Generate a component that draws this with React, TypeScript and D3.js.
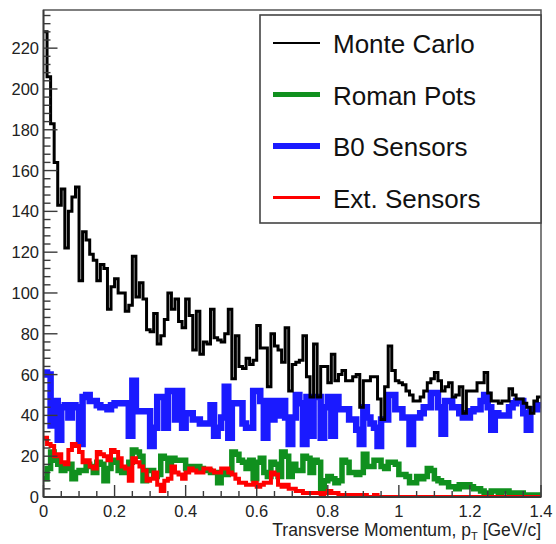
import React from 'react';
import * as d3 from 'd3';

const BIN_W = 0.01;
const X_MAX = 1.4;
const Y_MAX = 238.7;

const monteCarlo = [
  228, 206, 183, 164, 143, 151, 122, 140, 147, 152,
  106, 130, 126, 119, 116, 106, 114, 112, 92, 103,
  107, 100, 100, 91, 94, 118, 98, 105, 97, 82,
  81, 90, 75, 79, 87, 100, 92, 97, 86, 83,
  97, 89, 72, 91, 70, 76, 75, 92, 78, 77,
  76, 80, 92, 58, 79, 64, 63, 68, 65, 67,
  84, 73, 73, 54, 80, 74, 72, 66, 83, 52,
  65, 66, 67, 79, 59, 49, 75, 49, 64, 64,
  56, 70, 57, 60, 62, 57, 57, 59, 60, 44,
  57, 57, 59, 59, 48, 38, 54, 74, 62, 57,
  56, 55, 52, 50, 47, 47, 49, 52, 56, 58,
  61, 57, 52, 54, 56, 49, 50, 54, 41, 52,
  52, 52, 56, 56, 61, 51, 47, 47, 46, 47,
  47, 53, 50, 48, 48, 46, 44, 41, 47, 49,
];

const romanPots = [
  9, 14, 22, 18, 16, 13, 14, 16, 9, 12,
  13, 13, 16, 15, 12, 17, 16, 8, 14, 18,
  17, 13, 12, 12, 17, 23, 22, 20, 8, 13,
  13, 10, 11, 20, 19, 13, 19, 18, 18, 18,
  14, 15, 15, 15, 14, 13, 13, 12, 12, 7,
  12, 11, 12, 22, 21, 18, 17, 14, 18, 9,
  17, 19, 12, 10, 17, 16, 10, 22, 20, 10,
  16, 13, 13, 20, 19, 12, 18, 17, 3, 8,
  10, 9, 7, 8, 18, 17, 12, 12, 11, 12,
  21, 15, 15, 18, 18, 15, 14, 17, 17, 16,
  11, 11, 10, 7, 7, 10, 9, 10, 14, 13,
  9, 8, 7, 7, 5, 5, 4, 6, 5, 6,
  5, 4, 4, 3, 2, 2, 3, 3, 2, 3,
  3, 2, 2, 1, 2, 1, 1, 1, 0, 1,
];

const b0Sensors = [
  61, 60, 35, 47, 28, 44, 45, 39, 45, 44,
  26, 49, 50, 47, 47, 45, 44, 44, 43, 45,
  46, 46, 46, 46, 30, 57, 42, 42, 42, 42,
  25, 34, 49, 49, 34, 52, 52, 38, 52, 34,
  41, 41, 38, 38, 36, 36, 36, 45, 30, 34,
  39, 54, 29, 46, 46, 46, 36, 34, 34, 52,
  52, 47, 29, 47, 38, 47, 40, 47, 39, 26,
  39, 50, 46, 26, 49, 30, 49, 49, 29, 44,
  49, 30, 49, 43, 43, 43, 38, 38, 33, 26,
  44, 39, 36, 34, 25, 38, 38, 50, 50, 43,
  43, 39, 39, 26, 39, 39, 41, 44, 44, 51,
  51, 44, 31, 47, 47, 44, 44, 41, 39, 39,
  42, 43, 43, 47, 50, 44, 33, 41, 40, 40,
  40, 44, 46, 47, 47, 41, 33, 43, 43, 45,
];

const extSensors = [
  29, 26, 25, 20, 21, 17, 16, 23, 26, 25,
  22, 17, 18, 15, 14, 22, 21, 20, 18, 23,
  22, 19, 15, 14, 8, 19, 17, 15, 13, 8,
  9, 12, 6, 3, 8, 9, 15, 12, 11, 9,
  12, 14, 13, 12, 12, 14, 14, 13, 12, 12,
  14, 14, 12, 11, 9, 7, 7, 6, 6, 7,
  5, 6, 7, 7, 12, 11, 6, 5, 6, 4,
  4, 3, 3, 2, 2, 2, 2, 2, 1, 2,
  3, 2, 2, 1, 1, 1, 1, 0, 1, 0,
  1, 0, 0, 1, 0, 0, 0, 0, 0, 0,
  0, 0, 0, 0, 0, 0, 0, 0, 0, 0,
  0, 0, 0, 0, 0, 0, 0, 0, 0, 0,
  0, 0, 0, 0, 0, 0, 0, 0, 0, 0,
  0, 0, 0, 0, 0, 0, 0, 0, 0, 0,
];

const xMajorTicks = [0, 0.2, 0.4, 0.6, 0.8, 1, 1.2, 1.4];
const xTickLabels = ['0', '0.2', '0.4', '0.6', '0.8', '1', '1.2', '1.4'];
const yMajorTicks = [0, 20, 40, 60, 80, 100, 120, 140, 160, 180, 200, 220];

const seriesNames = ['Monte Carlo', 'Roman Pots', 'B0 Sensors', 'Ext. Sensors'];
const seriesColors = ['#000000', '#10901e', '#1a1aff', '#ff0000'];
const seriesWidths = [3, 5.5, 6.5, 4];
const legendWidths = [2, 5, 6, 3];

const FONT = '"Liberation Sans", Arial, Helvetica, sans-serif';

export default function App() {
  const W = 556, H = 544;
  const L = 43.5, R = 541, T = 10, B = 497;
  const x = d3.scaleLinear().domain([0, X_MAX]).range([L, R]);
  const y = d3.scaleLinear().domain([0, Y_MAX]).range([B, T]);

  const stepPath = (vals: number[]) => {
    const pts: [number, number][] = vals.map((v, i) => [i * BIN_W, v]);
    pts.push([vals.length * BIN_W, vals[vals.length - 1]]);
    return d3.line<[number, number]>()
      .x(d => x(d[0]))
      .y(d => y(d[1]))
      .curve(d3.curveStepAfter)(pts) || '';
  };

  const series = [monteCarlo, romanPots, b0Sensors, extSensors];
  const drawOrder = [2, 1, 3, 0];

  const yMinor = d3.range(0, 237, 4);
  const xMinor = d3.range(0, 28.5, 1).map(i => i * 0.05);

  const axisColor = '#3a3a3a';
  const legendY = [43, 94.5, 146, 197.5];

  return (
    <svg width={W} height={H} style={{ position: 'absolute', left: 0, top: 0, background: '#fff' }}>
      <defs>
        <clipPath id="plotClip">
          <rect x={L} y={T} width={R - L} height={B - T} />
        </clipPath>
      </defs>
      <rect x={0} y={0} width={W} height={H} fill="#fff" />

      <g clipPath="url(#plotClip)">
        {drawOrder.map(si => (
          <path key={si} d={stepPath(series[si])} fill="none"
            stroke={seriesColors[si]} strokeWidth={seriesWidths[si]}
            strokeLinejoin="miter" strokeLinecap="butt" />
        ))}
      </g>

      {/* frame */}
      <rect x={L} y={T} width={R - L} height={B - T} fill="none" stroke="#555" strokeWidth={1.5} />

      {/* y ticks */}
      {yMinor.map(v => {
        const major = v % 20 === 0;
        return (
          <line key={'ym' + v} x1={L} x2={L + (major ? 14 : 7)} y1={y(v)} y2={y(v)}
            stroke={axisColor} strokeWidth={1.4} />
        );
      })}
      {yMajorTicks.map(v => (
        <text key={'yl' + v} x={39} y={y(v)} dy="0.36em" textAnchor="end"
          fontFamily={FONT} fontSize={16.5} fill="#222">{v}</text>
      ))}

      {/* x ticks */}
      {xMinor.map((v, i) => {
        const major = i % 4 === 0;
        return (
          <line key={'xm' + i} x1={x(v)} x2={x(v)} y1={B} y2={B - (major ? 12 : 6)}
            stroke={axisColor} strokeWidth={1.4} />
        );
      })}
      {xMajorTicks.map((v, i) => (
        <text key={'xl' + i} x={x(v)} y={517} textAnchor="middle"
          fontFamily={FONT} fontSize={16.5} fill="#222">{xTickLabels[i]}</text>
      ))}

      {/* axis lines */}
      <line x1={L} x2={L} y1={T} y2={B} stroke={axisColor} strokeWidth={1.8} />
      <line x1={L} x2={R} y1={B} y2={B} stroke={axisColor} strokeWidth={1.8} />

      <text x={541} y={536} textAnchor="end" fontFamily={FONT} fontSize={17.5} fill="#222">
        Transverse Momentum, p<tspan fontSize={11} dy={4}>T</tspan><tspan dy={-4}> [GeV/c]</tspan>
      </text>

      {/* legend */}
      <rect x={260} y={15} width={281} height={208} fill="#fff" stroke="#444" strokeWidth={1.6} />
      {seriesNames.map((name, i) => (
        <g key={name}>
          <line x1={273} x2={320} y1={legendY[i]} y2={legendY[i]}
            stroke={seriesColors[i]} strokeWidth={legendWidths[i]} />
          <text x={333} y={legendY[i] + 10} fontFamily={FONT} fontSize={26} fill="#111">{name}</text>
        </g>
      ))}
    </svg>
  );
}
